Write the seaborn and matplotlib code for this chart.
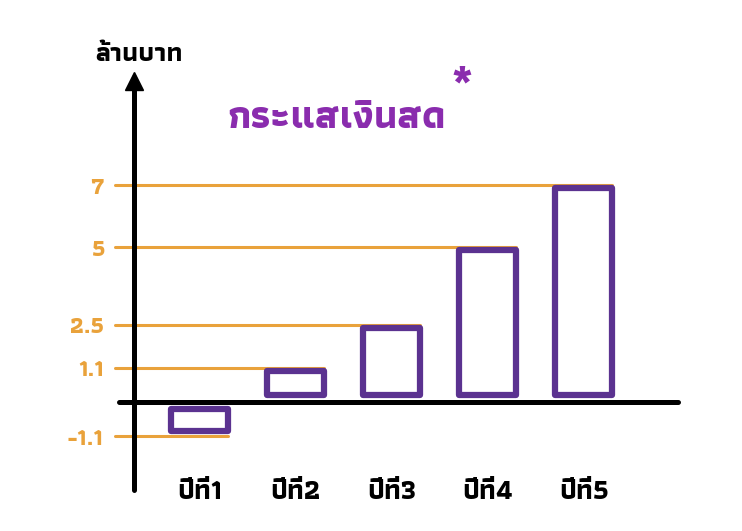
import numpy as np
import matplotlib
matplotlib.use('Agg')
import matplotlib.pyplot as plt
import seaborn as sns
from matplotlib import font_manager, ft2font

# data
years = ['ปีที่1', 'ปีที่2', 'ปีที่3', 'ปีที่4', 'ปีที่5']
cash_flow = [-1.1, 1.1, 2.5, 5, 7]
tick_labels = ['-1.1', '1.1', '2.5', '5', '7']
title = 'กระแสเงินสด'
unit_label = 'ล้านบาท'

PURPLE = '#5b3290'
ORANGE = '#e9a23b'
TITLE_PURPLE = '#8a2cae'


def find_thai_font():
    """Pick an installed font that has Thai glyphs"""
    found = []
    for f in font_manager.fontManager.ttflist:
        try:
            cmap = ft2font.FT2Font(f.fname).get_charmap()
        except Exception:
            continue
        if 0x0E01 in cmap and 0x0E49 in cmap:
            found.append(f)
    if not found:
        return None
    found.sort(key=lambda f: (f.weight not in ('bold', 700, 600, 'semibold'), f.name))
    return found[0].name


sns.set_theme(style='white')
thai = find_thai_font()
plt.rcParams['font.family'] = ([thai] if thai else []) + ['DejaVu Sans']

fig = plt.figure(figsize=(7.42, 5.31), dpi=100)
ax = fig.add_axes([0, 0, 1, 1])

sns.barplot(x=years, y=cash_flow, fill=False, width=0.6, linewidth=4.5,
            edgecolor=PURPLE, color=PURPLE, ax=ax, errorbar=None)

# hand-drawn look: bars float slightly off the axis and stop just short of the line
for p in ax.patches:
    h = p.get_height()
    sgn = np.sign(h)
    gap = 0.22 * sgn
    top = h - (0.1 if sgn > 0 else -0.17)
    p.set_y(gap)
    p.set_height(top - gap)
    p.set_edgecolor(PURPLE)
    p.set_joinstyle('round')
    p.set_zorder(3)

# orange guide lines from the axis to the bar
for i, v in enumerate(cash_flow):
    ax.plot([-0.88, i + 0.3], [v, v], color=ORANGE, lw=2.2, solid_capstyle='round', zorder=1)

ax.set_xlim(-2.08, 5.65)
ax.set_ylim(-4.16, 12.97)

# axes drawn like the sketch
for s in ['top', 'right']:
    ax.spines[s].set_visible(False)
ax.spines['left'].set_position(('data', -0.68))
ax.spines['bottom'].set_position(('data', 0))
ax.spines['left'].set_bounds(-2.85, 10.5)
ax.spines['bottom'].set_bounds(-0.84, 4.98)
for s in ['left', 'bottom']:
    ax.spines[s].set_linewidth(3.6)
    ax.spines[s].set_color('black')
    ax.spines[s].set_capstyle('round')
ax.plot([-0.68], [10.35], marker='^', markersize=13, color='black', clip_on=False)

ax.set_yticks(cash_flow)
ax.set_yticklabels(tick_labels)
ax.tick_params(axis='y', length=0, pad=22, labelsize=17, labelcolor=ORANGE)
for t in ax.get_yticklabels():
    t.set_fontweight('bold')

ax.set_xticks(range(len(years)))
ax.set_xticklabels(years)
ax.tick_params(axis='x', length=0, pad=56, labelsize=20, labelcolor='black')
for t in ax.get_xticklabels():
    t.set_fontweight('bold')
ax.set_xlabel('')
ax.set_ylabel('')

ax.text(-0.63, 11.2, unit_label, fontsize=19, color='black', ha='center', va='center',
        fontweight='bold')
ax.text(1.43, 9.15, title, fontsize=28, color=TITLE_PURPLE, ha='center', va='center',
        fontweight='bold')
ax.text(2.73, 10.2, '*', fontsize=36, color=TITLE_PURPLE, ha='center', va='center',
        fontweight='bold')

fig.savefig('out.png', dpi=100)
